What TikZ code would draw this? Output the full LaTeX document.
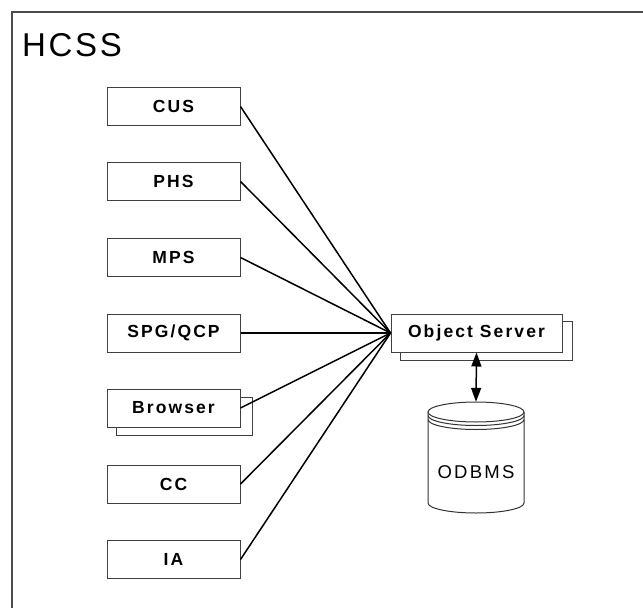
\documentclass[tikz,border=0pt]{standalone}
\usepackage{fontspec}
\setmainfont{Liberation Sans}
\newfontfamily\labelfont[LetterSpace=12]{Liberation Sans}
\newfontfamily\dbfont[LetterSpace=12]{Liberation Sans}
\newfontfamily\titlefont[LetterSpace=8]{Liberation Sans}
\usetikzlibrary{arrows.meta}
\tikzset{
  unit/.style={draw=black!75, line width=1pt, fill=white, minimum width=133pt,
    minimum height=38pt, inner sep=0pt, font=\labelfont\bfseries\fontsize{17.5}{20}\selectfont},
  shadowbox/.style={draw=black!75, line width=1pt, fill=white},
  link/.style={line width=1.5pt, black},
}
\begin{document}
\begin{tikzpicture}[x=1pt,y=-1pt]
\useasboundingbox (0,0) rectangle (643,608);
% enclosing frame (only top and left edges fall on the page)
\draw[black!70, line width=1.3pt] (12,608) -- (12,12) -- (643,12);
\node[anchor=base west, inner sep=0pt, font=\titlefont\fontsize{33}{38}\selectfont] (title) at (22,56) {HCSS};

% client subsystems
\node[unit] (cus) at (173.5,106.5) {CUS};
\node[unit] (phs) at (173.5,181.5) {PHS};
\node[unit] (mps) at (173.5,257.5) {MPS};
\node[unit] (spg) at (173.5,333) {SPG/QCP};
\draw[shadowbox] (116,397) rectangle (252,435);
\node[unit] (brw) at (173.5,408) {Browser};
\node[unit] (cc) at (173.5,484) {CC};
\node[unit] (ia) at (173.5,559.5) {IA};

% object server with its second layer
\draw[shadowbox] (400,321) rectangle (572,360);
\node[unit, minimum width=171pt] (os) at (476.5,333) {Object Server};

% connectors to the object server
\foreach \n in {cus,phs,mps,spg,brw,cc,ia}
  \draw[link] (\n.east) -- (os.west);

% database cylinder
\node[minimum width=96pt, minimum height=111pt, inner sep=0pt] (db) at (476,457.5) {};
\begin{scope}[black!80, line width=1pt]
  \draw[fill=white] (428,412) -- (428,503) arc[start angle=180, end angle=360, x radius=48, y radius=-10]
    -- (524,412);
  \draw[fill=white] (476,412) ellipse [x radius=48, y radius=10];
  \draw (428,415.5) arc[start angle=180, end angle=360, x radius=48, y radius=-10];
  \draw (428,419.5) arc[start angle=180, end angle=360, x radius=48, y radius=-10];
\end{scope}
\node[font=\dbfont\fontsize{18.5}{21}\selectfont] (dbl) at (476,472) {ODBMS};

\draw[link, {Triangle[length=14pt,width=10pt]}-{Triangle[length=14pt,width=10pt]}] (os.south) -- (db.north);
\end{tikzpicture}
\end{document}
